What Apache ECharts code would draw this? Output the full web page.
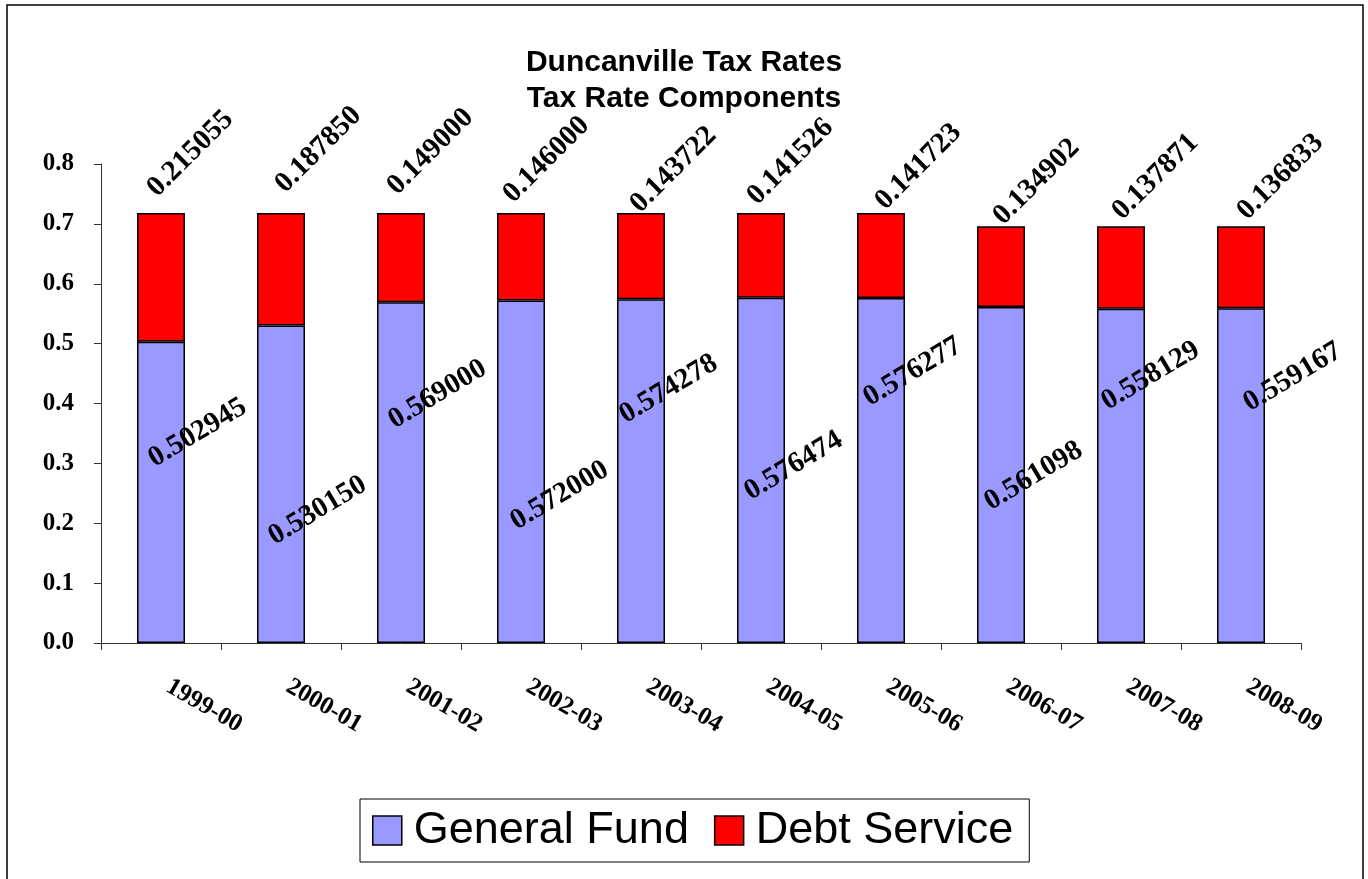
<!DOCTYPE html>
<html>
<head>
<meta charset="utf-8">
<title>Duncanville Tax Rates</title>
<script src="https://cdn.jsdelivr.net/npm/echarts@6/dist/echarts.min.js"></script>
<style>
html, body { margin: 0; padding: 0; background: #fff; }
#chart { width: 1368px; height: 879px; }
</style>
</head>
<body>
<div id="chart"></div>
<script>
const years = ['1999-00', '2000-01', '2001-02', '2002-03', '2003-04', '2004-05', '2005-06', '2006-07', '2007-08', '2008-09']
const generalFund = [0.502945, 0.530150, 0.569000, 0.572000, 0.574278, 0.576474, 0.576277, 0.561098, 0.558129, 0.559167]
const debtService = [0.215055, 0.187850, 0.149000, 0.146000, 0.143722, 0.141526, 0.141723, 0.134902, 0.137871, 0.136833]

// labels were dragged by hand in the original, spot measured from each bar's top-left
const gfLabelAt = [[14, 119], [14, 213], [14, 120], [16, 223], [5, 118], [10, 196], [9, 102], [10, 197], [7, 95], [29, 97]]
const dsLabelAt = [[15, -21], [23, -25], [15, -23], [11, -15], [18, -5], [15, -13], [23, -8], [21, -6], [20, -11], [25, -11]]

const serif = '"Liberation Serif", "Times New Roman", serif'
const sans = '"Liberation Sans", Arial, sans-serif'

const valueLabel = {
  show: true,
  align: 'left',
  verticalAlign: 'middle',
  color: '#000',
  fontFamily: serif,
  fontWeight: 'bold',
  fontSize: 29,
  formatter: (p) => p.value.toFixed(6)
}

const chart = echarts.init(document.getElementById('chart'))
chart.setOption({
  animation: false,
  backgroundColor: '#fff',
  title: {
    text: 'Duncanville Tax Rates\nTax Rate Components',
    left: 'center',
    top: 45,
    padding: 0,
    textStyle: {
      color: '#000',
      fontFamily: sans,
      fontWeight: 'bold',
      fontSize: 30,
      lineHeight: 36
    }
  },
  legend: {
    data: ['General Fund', 'Debt Service'],
    left: 360,
    top: 799,
    orient: 'horizontal',
    padding: [8, 16, 8, 12],
    borderColor: '#000',
    borderWidth: 1,
    itemWidth: 29,
    itemHeight: 29,
    itemGap: 25,
    icon: 'rect',
    itemStyle: { borderColor: '#000', borderWidth: 1.5 },
    textStyle: {
      color: '#000',
      fontFamily: sans,
      fontSize: 45,
      lineHeight: 47,
      padding: [0, 0, 0, 7]
    }
  },
  grid: { left: 101, right: 67, top: 164, bottom: 236 },
  xAxis: {
    type: 'category',
    data: years,
    axisLine: { lineStyle: { color: '#333', width: 1 } },
    axisTick: { show: true, length: 7, lineStyle: { color: '#333' } },
    axisLabel: {
      rotate: -30,
      margin: 38,
      interval: 0,
      color: '#000',
      fontFamily: serif,
      fontWeight: 'bold',
      fontSize: 25,
      padding: [0, 0, 0, 8]
    }
  },
  yAxis: {
    type: 'value',
    min: 0,
    max: 0.8,
    interval: 0.1,
    splitLine: { show: false },
    axisLine: { show: true, lineStyle: { color: '#333', width: 1 } },
    axisTick: { show: true, length: 7, lineStyle: { color: '#333' } },
    axisLabel: {
      margin: 27,
      color: '#000',
      fontFamily: serif,
      fontWeight: 'bold',
      fontSize: 25,
      formatter: (v) => v.toFixed(1)
    }
  },
  series: [
    {
      name: 'General Fund',
      type: 'bar',
      stack: 'rate',
      barWidth: 48,
      itemStyle: { color: '#9999ff', borderColor: '#000', borderWidth: 1.5 },
      label: Object.assign({ rotate: 31 }, valueLabel),
      data: generalFund.map((v, i) => ({ value: v, label: { position: gfLabelAt[i] } }))
    },
    {
      name: 'Debt Service',
      type: 'bar',
      stack: 'rate',
      barWidth: 48,
      itemStyle: { color: '#ff0000', borderColor: '#000', borderWidth: 1.5 },
      label: Object.assign({ rotate: 45 }, valueLabel),
      data: debtService.map((v, i) => ({ value: v, label: { position: dsLabelAt[i] } }))
    }
  ],
  graphic: [{
    type: 'rect',
    shape: { x: 7, y: 5, width: 1356, height: 900 },
    style: { fill: 'none', stroke: '#000', lineWidth: 1.5 },
    silent: true
  }]
})
</script>
</body>
</html>
